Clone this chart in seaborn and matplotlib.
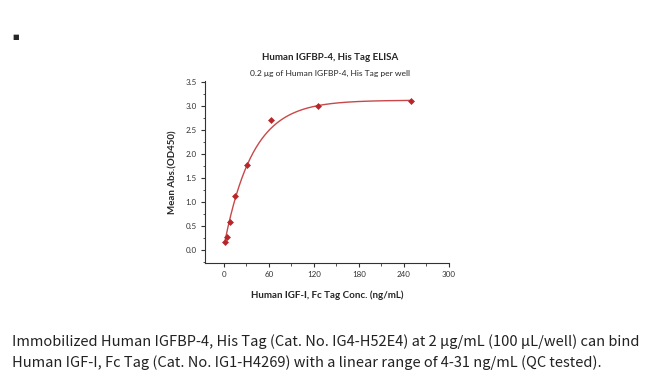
import matplotlib
matplotlib.use("Agg")
import matplotlib.pyplot as plt
import seaborn as sns
import numpy as np
import pandas as pd
from matplotlib.ticker import MultipleLocator, FormatStrFormatter

# Data
conc = [1.95, 3.9, 7.8, 15.6, 31.25, 62.5, 125, 250]
od450 = [0.17, 0.27, 0.59, 1.13, 1.78, 2.71, 3.00, 3.10]

# fitted curve y = plateau - span*exp(-x/k), parameters estimated from the reference line
plateau, span, k = 3.12, 3.06, 38.0

title = "Human IGFBP-4, His Tag ELISA"
subtitle = "0.2 \u03bcg of Human IGFBP-4, His Tag per well"
xlabel = "Human IGF-I, Fc Tag Conc. (ng/mL)"
ylabel = "Mean Abs.(OD450)"
caption = ("Immobilized Human IGFBP-4, His Tag (Cat. No. IG4-H52E4) at 2 \u03bcg/mL (100 \u03bcL/well) can bind\n"
           "Human IGF-I, Fc Tag (Cat. No. IG1-H4269) with a linear range of 4-31 ng/mL (QC tested).")

df = pd.DataFrame({"conc": conc, "od": od450})
xs = np.linspace(min(conc), max(conc), 400)
fit = pd.DataFrame({"conc": xs, "od": plateau - span * np.exp(-xs / k)})

sns.set_style("ticks")
plt.rcParams["font.family"] = ["Lato", "DejaVu Sans"]

fig = plt.figure(figsize=(6.5, 3.76), dpi=100)
ax = fig.add_axes([205 / 650, 1 - 263 / 376, 244 / 650, 182 / 376])

sns.lineplot(data=fit, x="conc", y="od", ax=ax, color="#c8484a", linewidth=1.0)
sns.scatterplot(data=df, x="conc", y="od", ax=ax, color="#b8262a", marker="D",
                s=9, edgecolor="#b8262a", linewidth=0.5, zorder=3)

ax.set_xlim(-25, 300)
ax.set_ylim(-0.27, 3.52)
ax.xaxis.set_major_locator(MultipleLocator(60))
ax.xaxis.set_minor_locator(MultipleLocator(30))
ax.yaxis.set_major_locator(MultipleLocator(0.5))
ax.yaxis.set_minor_locator(MultipleLocator(0.25))
ax.yaxis.set_major_formatter(FormatStrFormatter("%.1f"))
ax.tick_params(which="major", length=3, width=0.8, labelsize=5.8, colors="#333333", pad=3)
ax.tick_params(which="minor", length=1.8, width=0.6, colors="#333333")
sns.despine(ax=ax)
for s in ["left", "bottom"]:
    ax.spines[s].set_linewidth(0.8)
    ax.spines[s].set_color("#333333")

ax.set_xlabel(xlabel, fontsize=7, fontweight="bold", labelpad=9)
ax.set_ylabel(ylabel, fontsize=7, fontweight="bold", labelpad=6)

fig.text(330 / 650, 1 - 58 / 376, title, ha="center", va="center", fontsize=7, fontweight="bold")
fig.text(330 / 650, 1 - 73 / 376, subtitle, ha="center", va="center", fontsize=6.1)
fig.text(12 / 650, 1 - 352 / 376, caption, ha="left", va="center", fontsize=10.5,
         linespacing=1.5, color="#222222", family=["Noto Sans CJK SC", "DejaVu Sans"])
fig.text(16 / 650, 1 - 36 / 376, "\u25a0", ha="center", va="center", fontsize=5)

fig.savefig("out.png", dpi=100)
